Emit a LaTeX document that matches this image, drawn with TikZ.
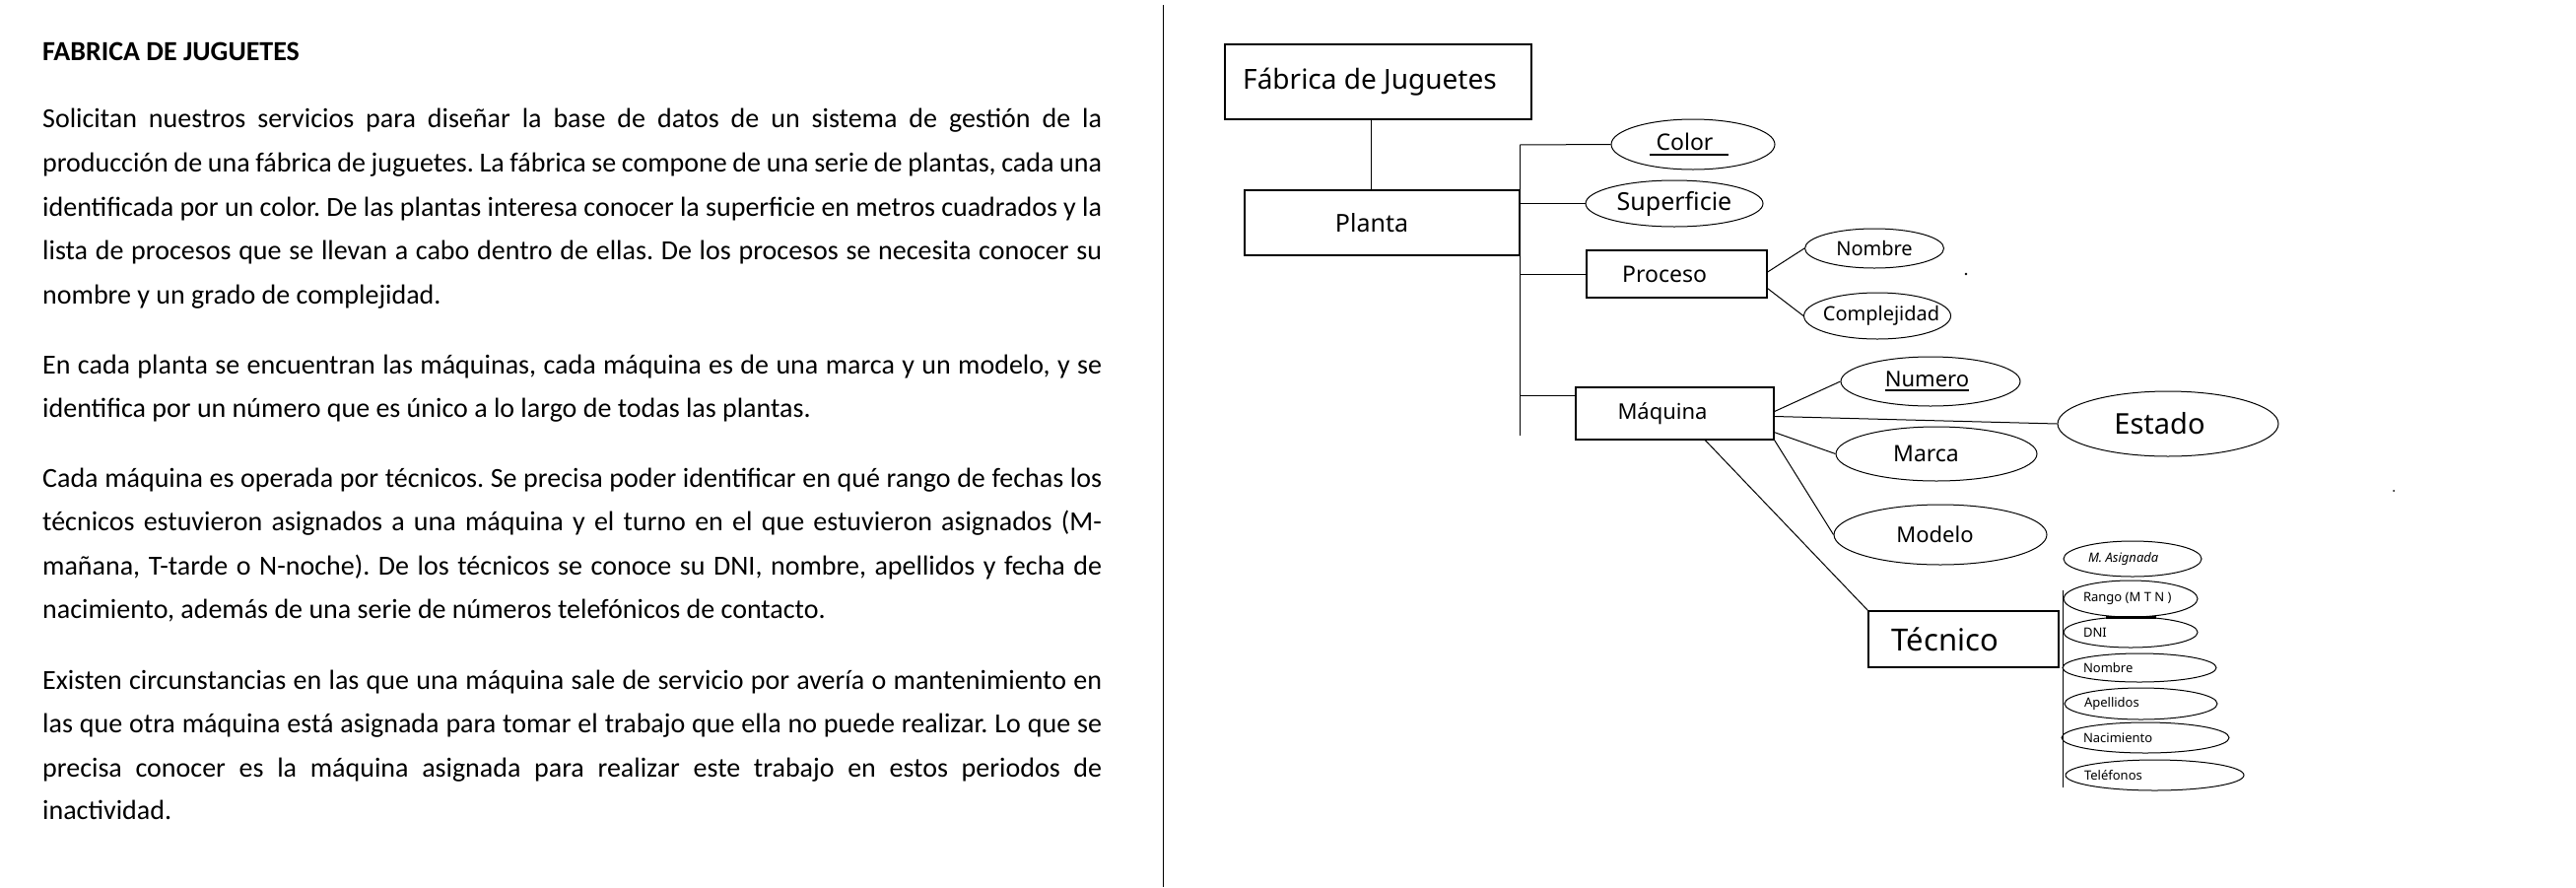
\documentclass[tikz,border=0pt]{standalone}
\usepackage{fontspec}
\setmainfont{Carlito}
\newfontfamily\diafont{Noto Sans}
\usetikzlibrary{shapes.geometric,calc}
\frenchspacing
\newcommand\myjline[1]{\makebox[1075pt][s]{#1}}
\newcommand\mycshift[2]{\makebox[0pt]{\hspace*{#1}#2\hspace*{-#1}}}
\newcommand\myleftat[2]{\makebox[0pt][l]{\hspace*{-#1}#2}}
\newcommand\mythickul[1]{\setbox0=\hbox{#1}\rlap{\rule[-5pt]{\wd0}{2.2pt}}\box0}
\tikzset{
  body/.style={anchor=base west, inner sep=0pt, font=\fontsize{28}{34}\selectfont},
  ent/.style={draw, rectangle, line width=1.3pt, inner sep=0pt},
  att/.style={draw, ellipse, line width=1pt, inner sep=0pt},
  conn/.style={line width=1pt},
  dia/.style={font=\diafont\fontsize{#1}{#1}\selectfont},
}
\begin{document}
\begin{tikzpicture}[x=1pt,y=-1pt]
\useasboundingbox (0,0) rectangle (2614,900);
% ---------- left text ----------
\node[body, font=\bfseries\fontsize{28}{34}\selectfont] (t0) at (43,61) {FABRICA DE JUGUETES};
\node[body] (p1a) at (43,129.5) {\myjline{Solicitan nuestros servicios para diseñar la base de datos de un sistema de gestión de la}};
\node[body] (p1b) at (43,174) {\myjline{producción de una fábrica de juguetes. La fábrica se compone de una serie de plantas, cada una}};
\node[body] (p1c) at (43,219) {\myjline{identificada por un color. De las plantas interesa conocer la superficie en metros cuadrados y la}};
\node[body] (p1d) at (43,263.5) {\myjline{lista de procesos que se llevan a cabo dentro de ellas. De los procesos se necesita conocer su}};
\node[body] (p1e) at (43,308) {nombre y un grado de complejidad.};
\node[body] (p2a) at (43,379) {\myjline{En cada planta se encuentran las máquinas, cada máquina es de una marca y un modelo, y se}};
\node[body] (p2b) at (43,423.5) {identifica por un número que es único a lo largo de todas las plantas.};
\node[body] (p3a) at (43,494) {\myjline{Cada máquina es operada por técnicos. Se precisa poder identificar en qué rango de fechas los}};
\node[body] (p3b) at (43,538.5) {\myjline{técnicos estuvieron asignados a una máquina y el turno en el que estuvieron asignados (M-}};
\node[body] (p3c) at (43,583) {\myjline{mañana, T-tarde o N-noche). De los técnicos se conoce su DNI, nombre, apellidos y fecha de}};
\node[body] (p3d) at (43,627.5) {nacimiento, además de una serie de números telefónicos de contacto.};
\node[body] (p4a) at (43,699) {\myjline{Existen circunstancias en las que una máquina sale de servicio por avería o mantenimiento en}};
\node[body] (p4b) at (43,743.5) {\myjline{las que otra máquina está asignada para tomar el trabajo que ella no puede realizar. Lo que se}};
\node[body] (p4c) at (43,788) {\myjline{precisa conocer es la máquina asignada para realizar este trabajo en estos periodos de}};
\node[body] (p4d) at (43,831) {inactividad.};
% divider
\coordinate (dv1) at (1180,5);
\coordinate (dv2) at (1180,900);
\draw[conn] (dv1) -- (dv2);
% ---------- diagram ----------
\node[ent, dia=28, minimum width=311pt, minimum height=76pt] (fab) at (1398.5,83) {\mycshift{-8.5pt}{Fábrica de Juguetes}};
\node[ent, dia=25, minimum width=279pt, minimum height=66pt] (pla) at (1402.5,226) {\mycshift{-10.5pt}{Planta}};
\node[ent, dia=23, minimum width=183pt, minimum height=48pt] (pro) at (1701.5,278) {\mycshift{-12.5pt}{Proceso}};
\node[ent, dia=22, minimum width=201pt, minimum height=53pt] (maq) at (1699.5,419.5) {\mycshift{-12.5pt}{Máquina}};
\node[ent, dia=31, minimum width=193pt, minimum height=57pt] (tec) at (1992.5,648.5) {\mycshift{-18.5pt}{Técnico}};

\node[att, dia=23, minimum width=166pt, minimum height=51pt] (col) at (1718,146.5) {\mycshift{-4pt}{\mythickul{\hspace{7pt}Color\hspace{16pt}}}};
\node[att, dia=25, minimum width=180pt, minimum height=47pt] (sup) at (1699,206.5) {Superficie};
\node[att, dia=20, minimum width=141pt, minimum height=40pt] (nom) at (1902,252) {Nombre};
\node[att, dia=20, minimum width=149pt, minimum height=47pt] (com) at (1905,320.5) {\mycshift{4pt}{Complejidad}};
\node[att, dia=22, minimum width=182pt, minimum height=50pt] (num) at (1959,387) {\mycshift{-3.5pt}{\mythickul{Numero}}};
\node[att, dia=29, minimum width=224pt, minimum height=66pt] (est) at (2200,430) {\mycshift{-8.5pt}{Estado}};
\node[att, dia=23, minimum width=204pt, minimum height=55pt] (mar) at (1965,460.5) {\mycshift{-10.5pt}{Marca}};
\node[att, dia=22, minimum width=216pt, minimum height=61pt] (mod) at (1969,542.5) {\mycshift{-5.5pt}{Modelo}};

\node[att, dia=13, minimum width=140pt, minimum height=36pt] (mas) at (2164,567) {\myleftat{45pt}{\itshape M. Asignada}};
\node[att, dia=13, minimum width=136pt, minimum height=37pt] (ran) at (2162,607.5) {\myleftat{48pt}{Rango (M T N )}};
\node[att, dia=13, minimum width=136pt, minimum height=31pt] (dni) at (2162,641.5) {\myleftat{48pt}{DNI}};
\node[att, dia=13, minimum width=156pt, minimum height=29pt] (tnom) at (2171,677.5) {\myleftat{57pt}{Nombre}};
\node[att, dia=13, minimum width=155pt, minimum height=32pt] (ape) at (2172.5,714) {\myleftat{57.5pt}{Apellidos}};
\node[att, dia=13, minimum width=170pt, minimum height=31pt] (nac) at (2177,748.5) {\myleftat{63pt}{Nacimiento}};
\node[att, dia=13, minimum width=181pt, minimum height=31pt] (tel) at (2186.5,786.5) {\myleftat{71.5pt}{Teléfonos}};

% connectors
\coordinate (fp) at (1391,0);
\draw[conn] (fab.south -| fp) -- (pla.north -| fp);
\coordinate (tTop) at (1542,147);
\coordinate (tBot) at (1542,442);
\draw[conn] (tTop) -- (tBot);
\draw[conn] (tTop) -- (col.west);
\draw[conn] (sup.west -| tTop) -- (sup.west);
\draw[conn] (pro.west -| tTop) -- (pro.west);
\coordinate (mqj) at ($(maq.north west)+(0,9)$);
\draw[conn] (tTop |- mqj) -- (mqj);
\draw[conn] ($(pro.east)+(0,-2)$) -- (nom.west);
\draw[conn] ($(pro.south east)+(0,-10)$) -- (com.west);
\draw[conn] ($(maq.east)+(0,-2)$) -- (num.west);
\draw[conn] ($(maq.east)+(0,3)$) -- (est.west);
\draw[conn] ($(maq.south east)+(0,-8)$) -- (mar.west);
\draw[conn] (maq.south east) -- (mod.west);
\draw[conn] ($(maq.south west)+(132,0)$) -- (tec.north west);
\coordinate (vTop) at (2093,599);
\coordinate (vBot) at (2093,799);
\draw[conn] (vTop) -- (vBot);
\draw[line width=3pt] ($(ran.south)+(-25,0)$) -- ($(ran.south)+(26,0)$);
% stray dots
\fill (1995,278) circle (1.3pt);
\fill (2429,498) circle (1pt);
\end{tikzpicture}
\end{document}
